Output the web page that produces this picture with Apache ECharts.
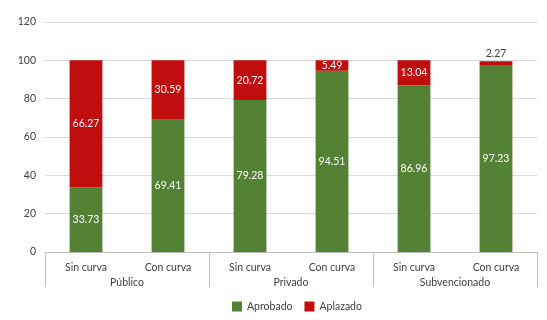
<!DOCTYPE html>
<html>
<head>
<meta charset="utf-8">
<script src="https://cdn.jsdelivr.net/npm/echarts@6/dist/echarts.min.js"></script>
<style>
  html, body { margin: 0; padding: 0; background: #fff; }
  #chart { width: 547px; height: 320px; }
</style>
</head>
<body>
<div id="chart"></div>
<script>
// categorias y valores
const subCategories = ['Sin curva', 'Con curva', 'Sin curva', 'Con curva', 'Sin curva', 'Con curva'];
const groups = ['Público', 'Privado', 'Subvencionado'];
const aprobado = [33.73, 69.41, 79.28, 94.51, 86.96, 97.23];
const aplazado = [66.27, 30.59, 20.72, 5.49, 13.04, 2.27];
const yTicks = [0, 20, 40, 60, 80, 100, 120];

const font = 'Lato';
const fontSize = 10.5;
const textColor = '#404040';

const chart = echarts.init(document.getElementById('chart'));

const option = {
  animation: false,
  textStyle: { fontFamily: font },
  grid: { left: 45, right: 10, top: 22, bottom: 68 },
  legend: {
    top: 296,
    left: 227,
    itemWidth: 10,
    itemHeight: 10,
    itemGap: 12,
    icon: 'rect',
    textStyle: { fontFamily: font, fontSize: fontSize, color: textColor },
    data: ['Aprobado', 'Aplazado']
  },
  xAxis: [
    {
      type: 'category',
      data: subCategories,
      position: 'bottom',
      axisLine: { lineStyle: { color: '#bfbfbf' } },
      axisTick: { show: false },
      axisLabel: { fontFamily: font, fontSize: fontSize, color: textColor, margin: 10 }
    },
    {
      type: 'category',
      data: groups,
      position: 'bottom',
      axisLine: { show: false },
      axisTick: { show: true, length: 35, lineStyle: { color: '#bfbfbf' } },
      axisLabel: { fontFamily: font, fontSize: fontSize, color: textColor, margin: 25 }
    }
  ],
  yAxis: {
    type: 'value',
    min: yTicks[0],
    max: yTicks[yTicks.length - 1],
    interval: 20,
    axisLine: { show: false },
    axisTick: { show: false },
    splitLine: { lineStyle: { color: '#d9d9d9' } },
    axisLabel: { fontFamily: font, fontSize: fontSize, color: textColor, margin: 9 }
  },
  series: [
    {
      name: 'Aprobado',
      type: 'bar',
      stack: 'total',
      barWidth: '40%',
      itemStyle: { color: '#548235' },
      label: {
        show: true,
        position: 'inside',
        color: '#fff',
        fontFamily: font,
        fontSize: fontSize,
        formatter: p => p.value.toFixed(2)
      },
      data: aprobado
    },
    {
      name: 'Aplazado',
      type: 'bar',
      stack: 'total',
      barWidth: '40%',
      itemStyle: { color: '#c00d0d' },
      label: {
        show: true,
        position: 'inside',
        color: '#fff',
        fontFamily: font,
        fontSize: fontSize,
        formatter: p => p.value.toFixed(2)
      },
      data: aplazado.map((v, i) => i === aplazado.length - 1
        ? { value: v, label: { position: 'top', color: textColor, distance: 2 } }
        : v)
    }
  ]
};

chart.setOption(option);
window.addEventListener('resize', () => chart.resize());
</script>
</body>
</html>
